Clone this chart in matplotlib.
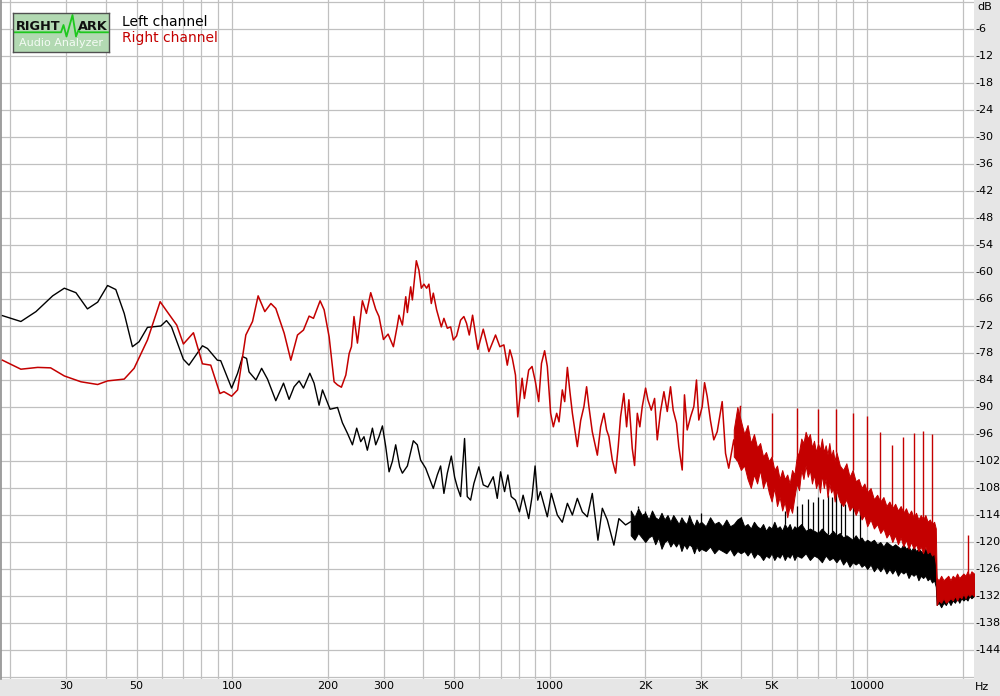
import numpy as np
import matplotlib
matplotlib.use("Agg")
import matplotlib.pyplot as plt
from matplotlib.transforms import blended_transform_factory

# ---------------- data (Hz, dB) ----------------
left_f = [18.9, 21.6, 24.1, 27.2, 29.6, 32.2, 35.0, 37.7, 40.5, 43.0, 45.7, 48.5, 50.9, 54.1, 59.6, 62.1,
          64.4, 70.2, 73.1, 80.6, 83.6, 89.8, 92.0, 99.6, 104, 107.8, 111, 113, 118.8, 123.8, 129.2, 137.2,
          145.1, 151.1, 156.7, 162.5, 167.7, 175.6, 181.1, 187.8, 192.5, 203.4, 214.7, 222.4, 230.9, 239.2,
          246.7, 254, 260.1, 266.5, 276.5, 283.2, 290, 297.3, 304.5, 312, 319.5, 327.3, 337, 343.6, 356.3,
          372, 382.9, 392.2, 406.8, 430, 442.6, 453.4, 464.4, 476, 490, 501.9, 511.7, 524.1, 539.4, 550,
          563.5, 577.1, 598.4, 617.7, 638.7, 664.1, 683.7, 700.4, 721, 738.5, 756.6, 780.3, 803.1, 824.7,
          858.8, 880, 899.6, 917, 935, 983, 1012, 1057, 1096, 1137, 1179, 1222, 1267, 1314, 1362, 1419,
          1465, 1519, 1593, 1652, 1734, 1798]
left_db = [-69.7, -71.0, -68.8, -65.3, -63.6, -64.6, -68.2, -66.7, -63.0, -63.9, -69.2, -76.6, -75.5, -72.3,
           -72.0, -70.8, -72.2, -79.4, -80.7, -76.4, -77.0, -79.6, -79.7, -85.8, -82.5, -78.8, -79.2, -82.2,
           -84.0, -81.4, -83.8, -88.6, -84.7, -88.3, -85.5, -84.2, -85.8, -82.5, -84.7, -89.6, -86.2, -90.5,
           -90.1, -93.5, -95.9, -98.4, -94.7, -97.7, -96.6, -99.6, -94.7, -98.4, -96.6, -94.2, -98.8, -104.4,
           -102.1, -98.4, -103.3, -104.7, -103.1, -97.5, -98.4, -101.8, -103.6, -108.1, -105.1, -103.1,
           -109.2, -104.7, -100.9, -105.6, -107.8, -109.9, -97.0, -109.9, -110.7, -107.0, -103.3, -107.3,
           -107.8, -105.5, -110.3, -104.4, -108.8, -105.1, -109.9, -110.7, -113.3, -109.6, -114.8, -109.9,
           -103.1, -110.7, -108.8, -114.4, -109.2, -114.0, -115.6, -111.4, -114.0, -110.3, -113.3, -114.4,
           -109.2, -119.6, -112.5, -115.1, -120.7, -114.8, -116.2, -115.5]

left_band_f = [1800, 1850, 1900, 1950, 2000, 2050, 2100, 2150, 2200, 2250, 2300, 2350, 2400, 2450, 2500,
               2550, 2600, 2650, 2700, 2750, 2800, 2850, 2900, 2950, 3000, 3100, 3200, 3300, 3400, 3500,
               3600, 3700, 3800, 3900, 4000, 4100, 4200, 4300, 4400, 4500, 4600, 4700, 4800, 4900, 5000,
               5100, 5200, 5300, 5400, 5500, 5600, 5700, 5800, 5900, 6000, 6200, 6400, 6600, 6800, 7000,
               7200, 7400, 7600, 7800, 8000, 8200, 8400, 8600, 8800, 9000, 9200, 9400, 9600, 9800, 10000,
               10250, 10500, 10750, 11000, 11250, 11500, 11750, 12000, 12250, 12500, 12750, 13000, 13250,
               13500, 13750, 14000, 14250, 14500, 14750, 15000, 15250, 15500, 15750, 16000, 16250, 16450,
               16550, 16800, 17100, 17400, 17700, 18000, 18300, 18600, 18900, 19200, 19500, 19800, 20100,
               20400, 20700, 21000, 21300, 21700]
left_band_hi = [-113, -114.5, -112.5, -114, -113.5, -115, -113, -114.5, -115, -113.5, -115, -114, -115.5,
                -114, -115, -116, -114.5, -115.5, -116, -114, -115.5, -116.5, -115, -116, -115.5, -116.5,
                -114.5, -116, -115.5, -116.5, -115, -116.5, -116, -115, -114.5, -116.5, -116, -117, -115.5,
                -116.5, -117, -116, -117.5, -116.5, -117, -115.5, -117, -116.5, -117.5, -116, -117, -116,
                -117.5, -116.5, -117, -116, -117.5, -117, -117.5, -118, -117, -118, -118.5, -117.5, -118.5,
                -118, -119, -118.5, -119, -119.5, -118.5, -119.5, -119, -120, -119.5, -120, -119.5, -120.5,
                -120, -121, -120, -120.5, -121, -120.5, -121, -121.5, -120.5, -121.5, -121, -122, -121,
                -122, -121.5, -122, -122.5, -121.5, -122.5, -122, -123, -122.5, -124, -130.5, -130, -130.5,
                -129.5, -130.5, -130, -129.5, -130, -129.5, -130, -129, -129.5, -129, -129.5, -128.5, -129,
                -128.5, -129]
left_band_lo = [-118.5, -119.5, -118, -119, -120, -119, -118.5, -120.5, -119, -121.5, -120, -119.5, -121,
                -120, -121, -120, -122, -120.5, -121.5, -120.5, -121, -122.5, -121, -122, -121.5, -122,
                -121, -122.5, -121.5, -122, -122.5, -121.5, -123, -122, -122.5, -122, -123, -122, -123.5,
                -122.5, -123, -124, -123, -123.5, -122.5, -124, -123, -123.5, -122.5, -124, -123, -123.5,
                -122.5, -124, -123, -123.5, -122.5, -124, -123, -123.5, -124.5, -123, -124, -123.5, -124.5,
                -123.5, -125, -124, -125.5, -124.5, -125, -124.5, -125.5, -125, -126, -125, -126.5, -125.5,
                -126.5, -125.5, -127, -126, -127, -126, -127.5, -126.5, -127, -126.5, -128, -127, -127.5,
                -127, -128.5, -127.5, -128, -127.5, -128.5, -128, -129, -128.5, -130, -134, -133.5, -134.5,
                -133.5, -134, -133, -134, -133, -133.5, -132.5, -133.5, -132.5, -133, -132.5, -133, -132,
                -132.5, -132]

left_spike_f = [1900, 2000, 3000, 4000, 5500, 6000, 6250, 6500, 6750, 7000, 7250, 7500, 7750, 8000, 8250,
                8500, 9000, 9500]
left_spike_db = [-112, -113, -113.5, -114.7, -113, -112, -111.5, -110.5, -111, -110, -110.5, -109.5, -110,
                 -109.2, -111, -111.5, -111.4, -113]

right_f = [18.9, 21.6, 24.4, 26.8, 29.6, 33.4, 37.7, 40.5, 45.7, 49.1, 54.1, 59.3, 61.8, 66.9, 70.2, 75.5,
           80.6, 85.6, 91.5, 94.2, 99.6, 104, 110.4, 115.9, 120.7, 126.7, 132.4, 137.2, 145.8, 153, 160.6,
           167.7, 174.7, 180.3, 189.2, 194.8, 202, 209.4, 214.7, 220.8, 228, 233.6, 237.5, 241.9, 248, 257.1,
           264.7, 273.1, 283.2, 290, 299.5, 309.8, 321.9, 331.4, 335.3, 343.6, 352.1, 356.3, 364.9, 369.4,
           380.2, 387.4, 394.2, 401.7, 409.7, 416.5, 423.8, 430, 440.4, 455.7, 464.4, 476, 487.6, 497.2,
           509.2, 524.1, 536.7, 547.2, 558.1, 571.7, 594.1, 617.7, 643.4, 675.3, 696.8, 717.4, 735.3, 749.3,
           762.7, 780.3, 793.4, 818.8, 832.5, 858.8, 880, 901.6, 923.4, 942.3, 964, 983, 1007, 1027, 1052,
           1070, 1096, 1115, 1137, 1158, 1179, 1222, 1252, 1282, 1307, 1329, 1362, 1413, 1447, 1482, 1511,
           1537, 1575, 1613, 1644, 1672, 1712, 1747, 1776, 1820, 1851, 1888, 1923, 1957, 2005, 2039, 2089,
           2140, 2182, 2234, 2290, 2346, 2402, 2449, 2509, 2551, 2615, 2658, 2711, 2778, 2845, 2900, 2949,
           3023, 3075, 3135, 3209, 3288, 3370, 3494, 3580, 3664, 3800, 3893, 3990]
right_db = [-79.6, -81.6, -81.2, -81.3, -83.1, -84.4, -85.0, -84.2, -83.8, -81.4, -75.1, -66.6, -68.4, -71.8,
            -76.0, -73.5, -80.4, -80.7, -87.0, -86.6, -87.6, -86.2, -74.0, -71.0, -65.3, -68.8, -67.0, -68.1,
            -73.6, -79.6, -74.0, -72.9, -69.8, -70.3, -66.4, -68.4, -74.4, -84.4, -85.1, -85.6, -82.9, -78.1,
            -76.6, -69.9, -75.8, -66.4, -69.2, -64.6, -68.3, -69.9, -75.0, -73.8, -76.6, -71.8, -69.6, -71.8,
            -65.5, -69.0, -63.3, -66.2, -57.5, -59.6, -63.6, -62.7, -63.6, -62.7, -67.0, -64.7, -68.4, -72.2,
            -70.3, -72.5, -72.2, -75.1, -74.2, -70.7, -69.9, -71.4, -74.0, -69.6, -77.2, -72.7, -77.7, -74.0,
            -76.6, -76.2, -80.7, -77.3, -79.2, -82.9, -92.2, -83.6, -88.1, -81.8, -81.0, -84.4, -88.8, -80.3,
            -77.5, -81.0, -91.4, -94.4, -91.4, -93.3, -86.2, -88.8, -81.2, -86.6, -91.4, -98.8, -93.0, -89.9,
            -85.5, -89.9, -95.5, -100.7, -94.4, -91.4, -95.1, -96.6, -101.8, -104.7, -98.8, -92.2, -87.0,
            -94.4, -88.4, -99.2, -103.0, -91.4, -94.4, -89.9, -85.8, -88.4, -90.7, -88.1, -97.3, -91.0, -86.6,
            -91.0, -85.5, -90.7, -93.6, -98.8, -104.0, -87.3, -95.1, -92.2, -89.9, -84.0, -92.9, -89.9, -84.6,
            -87.7, -93.0, -97.3, -95.5, -88.8, -100.3, -103.6, -97.3, -101.8, -89.9]

right_band_f = [3800, 3900, 4000, 4100, 4200, 4300, 4400, 4500, 4600, 4700, 4800, 4900, 5000, 5100, 5200,
                5300, 5400, 5500, 5600, 5700, 5800, 5900, 6000, 6100, 6200, 6300, 6400, 6500, 6600, 6700,
                6800, 6900, 7000, 7100, 7200, 7300, 7400, 7500, 7600, 7700, 7800, 7900, 8000, 8200, 8400,
                8600, 8800, 9000, 9200, 9400, 9600, 9800, 10000, 10250, 10500, 10750, 11000, 11250, 11500,
                11750, 12000, 12250, 12500, 12750, 13000, 13250, 13500, 13750, 14000, 14250, 14500, 14750,
                15000, 15250, 15500, 15750, 16000, 16250, 16450, 16550, 16800, 17100, 17400, 17700, 18000,
                18300, 18600, 18900, 19200, 19500, 19800, 20100, 20400, 20700, 21000, 21300, 21700]
right_band_hi = [-95, -90, -93, -96, -94, -98, -96, -99, -98, -101, -100, -102, -101, -104, -103, -106, -104,
                 -106, -105, -107, -104, -105, -101, -100, -97, -98, -95.5, -97, -96, -99, -97.5, -100, -98,
                 -99.5, -97, -100, -98.5, -100.5, -98, -101, -99.5, -102, -100, -103, -104, -102.5, -105.5,
                 -104, -106.5, -106, -108, -107, -109, -108, -110.5, -109.5, -111, -110, -112, -111, -112.5,
                 -111.5, -113, -112, -113.5, -112.5, -114, -113, -114.5, -113.5, -115, -114, -115, -114,
                 -115.5, -115, -116, -115.5, -117, -128, -128.5, -127.5, -128.5, -128, -127.5, -128.5, -127.5,
                 -128, -127, -128, -127.5, -127, -127.5, -126.5, -127.5, -126.5, -127]
right_band_lo = [-101, -102, -104, -103, -106, -108, -105, -107, -104, -108, -106, -109, -111, -108, -112,
                 -110, -113, -111, -114.5, -112, -113.5, -110, -107, -108.5, -104, -106, -103, -105.5, -104,
                 -107, -105, -108, -106.5, -109, -105, -108, -106, -110, -107, -109, -108, -111, -108.5, -111,
                 -112, -110.5, -113, -112, -114, -112.5, -115, -114, -116.5, -115, -117, -116, -118, -117,
                 -119, -118, -120, -118.5, -120.5, -119, -121, -119.5, -121.5, -120, -121.5, -120.5, -122,
                 -121, -122.5, -121, -122.5, -122, -123, -122.5, -125, -134, -133, -133.5, -132.5, -133.5,
                 -133, -132.5, -133, -132, -133, -132, -132.5, -131.5, -132.5, -131.5, -132, -131.5, -132]

right_spike_f = [5000, 6000, 7000, 8000, 9000, 10000, 11000, 12000, 13000, 14000, 15000, 16000, 20840]
right_spike_db = [-91.4, -90.3, -90.5, -90.5, -91.3, -92.0, -95.5, -98.4, -96.6, -95.7, -95.3, -96.0, -118.4]

x_grid = [20, 30, 40, 50, 60, 70, 80, 90, 100, 200, 300, 400, 500, 600, 700, 800, 900, 1000, 2000, 3000,
          4000, 5000, 6000, 7000, 8000, 9000, 10000, 20000]
x_label_f = [30, 50, 100, 200, 300, 500, 1000, 2000, 3000, 5000, 10000]
x_label_t = ["30", "50", "100", "200", "300", "500", "1000", "2K", "3K", "5K", "10000"]
y_ticks = list(range(0, -151, -6))
y_labeled = list(range(-6, -145, -6))

BLACK = "#000000"
RED = "#c40000"

# ---------------- figure ----------------
W, H = 1000, 696
fig = plt.figure(figsize=(W / 100, H / 100), dpi=100)
fig.patch.set_facecolor("#e6e6e6")
ax = fig.add_axes([1 / W, (H - 679) / H, 973 / W, 679 / H])
ax.set_facecolor("white")
ax.set_xscale("log")
ax.set_xlim(18.7, 21700)
ax.set_ylim(-150.44, 0.44)

ax.set_xticks(x_grid)
ax.set_xticks([], minor=True)
ax.set_yticks(y_ticks)
ax.tick_params(which="both", length=0, labelbottom=False, labelleft=False)
ax.grid(True, color="#c0c0c0", lw=0.9)
ax.set_axisbelow(True)
for s in ["top", "right", "bottom"]:
    ax.spines[s].set_visible(False)
ax.spines["left"].set_color("#909090")
ax.spines["left"].set_linewidth(1.2)

# black (left channel)
ax.plot(left_f, left_db, color=BLACK, lw=1.0, zorder=3)
ax.fill_between(left_band_f, left_band_lo, left_band_hi, color=BLACK, lw=0.7, zorder=3)
lbase = np.interp(left_spike_f, left_band_f, left_band_hi)
ax.vlines(left_spike_f, lbase, left_spike_db, color=BLACK, lw=0.9, zorder=3)

# red (right channel)
ax.plot(right_f, right_db, color=RED, lw=1.1, zorder=4)
ax.fill_between(right_band_f, right_band_lo, right_band_hi, color=RED, lw=0.7, zorder=4)
rbase = np.interp(right_spike_f, right_band_f, right_band_hi)
ax.vlines(right_spike_f, rbase, right_spike_db, color=RED, lw=1.0, zorder=4)

# tick labels
trx = blended_transform_factory(ax.transData, ax.transAxes)
for f, t in zip(x_label_f, x_label_t):
    ax.text(f, -0.0103, t, transform=trx, ha="center", va="center", fontsize=8,
            family="DejaVu Sans", clip_on=False)
ax.text(1.0012, -0.0115, "Hz", transform=ax.transAxes, ha="left", va="center", fontsize=8,
        clip_on=False)
tr_y = blended_transform_factory(ax.transAxes, ax.transData)
for v in y_labeled:
    ax.text(1.0012, v, str(v), transform=tr_y, ha="left", va="center", fontsize=8, clip_on=False)
ax.text(1.0035, -1.1, "dB", transform=tr_y, ha="left", va="center", fontsize=8, clip_on=False)

# legend texts
fig.text(122 / W, 1 - 22 / H, "Left channel", color=BLACK, fontsize=10, ha="left", va="center")
fig.text(122 / W, 1 - 38 / H, "Right channel", color=RED, fontsize=10, ha="left", va="center")

# logo
lx0, ly0, lx1, ly1 = 12.7, 12.7, 109.3, 51.7
lg = fig.add_axes([lx0 / W, 1 - ly1 / H, (lx1 - lx0) / W, (ly1 - ly0) / H])
lg.set_xlim(lx0, lx1)
lg.set_ylim(ly1, ly0)
lg.set_facecolor("#b2d9b2")
for s in lg.spines.values():
    s.set_color("#505050")
    s.set_linewidth(1.0)
lg.set_xticks([])
lg.set_yticks([])
lg.text(15.5, 26.5, "RIGHT", fontsize=9.3, fontweight="bold", color="#101010", ha="left", va="center")
lg.text(107.5, 26.5, "ARK", fontsize=9.3, fontweight="bold", color="#101010", ha="right", va="center")
lg.plot([14, 61, 63.5, 66.5, 72.5, 76, 78.5, 80, 108],
        [32.3, 32.3, 25, 36.5, 15, 36.5, 30, 32.3, 32.3], color="#1ec81e", lw=1.3)
lg.text(61, 43.5, "Audio Analyzer", fontsize=8.0, color="#f4fbf4", ha="center", va="center")

fig.savefig("out.png", dpi=100, facecolor=fig.get_facecolor())
